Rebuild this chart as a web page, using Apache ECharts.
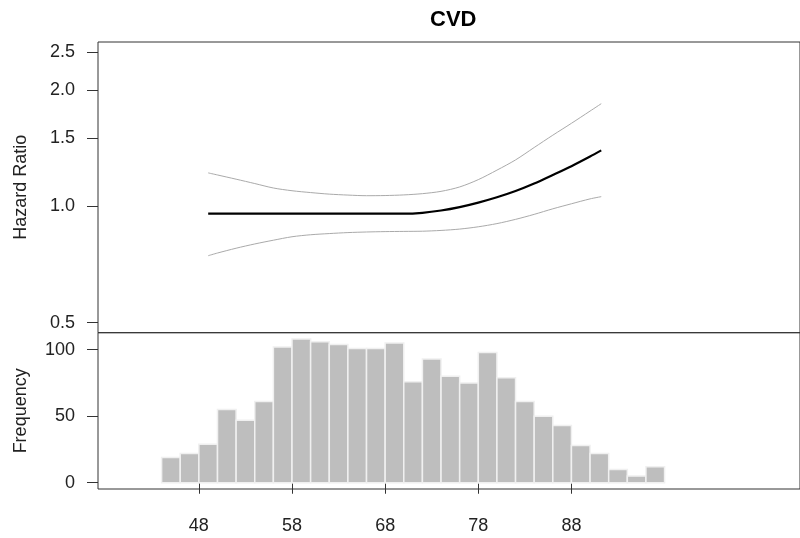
<!DOCTYPE html>
<html>
<head>
<meta charset="utf-8">
<script src="https://cdn.jsdelivr.net/npm/echarts@6/dist/echarts.min.js"></script>
<style>
html, body { margin: 0; padding: 0; background: #fff; }
#main { width: 800px; height: 538px; }
</style>
</head>
<body>
<div id="main"></div>
<script>
// age grid for the spline curve
var ages = [49, 50, 52, 54, 56, 58, 60, 62, 64, 66, 68, 70, 72, 74, 76, 78, 80, 82, 84, 86, 88, 90, 91.2];
var hrFit = [0.957, 0.957, 0.957, 0.957, 0.957, 0.957, 0.957, 0.957, 0.958, 0.957, 0.957, 0.957, 0.962, 0.975, 0.995, 1.022, 1.055, 1.095, 1.145, 1.205, 1.27, 1.345, 1.395];
var hrUpper = [1.22, 1.205, 1.175, 1.145, 1.115, 1.097, 1.085, 1.075, 1.069, 1.065, 1.066, 1.07, 1.078, 1.093, 1.122, 1.172, 1.24, 1.318, 1.419, 1.527, 1.639, 1.763, 1.842];
var hrLower = [0.745, 0.757, 0.779, 0.799, 0.817, 0.834, 0.844, 0.85, 0.855, 0.858, 0.86, 0.861, 0.862, 0.866, 0.873, 0.885, 0.902, 0.925, 0.953, 0.985, 1.015, 1.045, 1.059];

// histogram of age
var binStarts = [44, 46, 48, 50, 52, 54, 56, 58, 60, 62, 64, 66, 68, 70, 72, 74, 76, 78, 80, 82, 84, 86, 88, 90, 92, 94, 96];
var binWidth = 2;
var freq = [19, 22, 29, 55, 47, 61, 102, 108, 106, 104, 101, 101, 105, 76, 93, 80, 75, 98, 79, 61, 50, 43, 28, 22, 10, 5, 12];

var xTicks = [48, 58, 68, 78, 88];
var hrTicks = [0.5, 1.0, 1.5, 2.0, 2.5];
var freqTicks = [0, 50, 100];

var font = 'Liberation Sans, Arial, sans-serif';
var axisColor = '#333';

function pairs(xs, ys) {
    var out = [];
    for (var i = 0; i < xs.length; i++) {
        out.push([xs[i], Math.log(ys[i])]);
    }
    return out;
}

var histData = [];
for (var i = 0; i < binStarts.length; i++) {
    histData.push([binStarts[i], binStarts[i] + binWidth, freq[i]]);
}

var chart = echarts.init(document.getElementById('main'));

var xCommon = {
    type: 'value',
    min: 37.17,
    max: 112.54,
    splitLine: { show: false },
    axisLine: { show: false }
};

var option = {
    animation: false,
    backgroundColor: '#fff',
    title: {
        text: 'CVD',
        left: 430,
        top: 9,
        padding: 0,
        textStyle: { fontFamily: font, fontSize: 22, fontWeight: 'bold', color: '#000' }
    },
    grid: [
        { left: 98, top: 42, width: 710, height: 290.7, show: true, borderColor: axisColor, borderWidth: 1, backgroundColor: 'transparent' },
        { left: 98, top: 332.7, width: 710, height: 156.3, show: true, borderColor: axisColor, borderWidth: 1, backgroundColor: 'transparent' }
    ],
    xAxis: [
        Object.assign({}, xCommon, {
            gridIndex: 0,
            axisTick: { show: false },
            axisLabel: { show: false }
        }),
        Object.assign({}, xCommon, {
            gridIndex: 1,
            axisTick: { show: true, length: 11, lineStyle: { color: axisColor }, customValues: xTicks },
            axisLabel: { margin: 28, fontFamily: font, fontSize: 18, color: '#222', customValues: xTicks }
        })
    ],
    yAxis: [
        {
            type: 'value',
            gridIndex: 0,
            min: Math.log(0.471),
            max: Math.log(2.66),
            splitLine: { show: false },
            axisLine: { show: false },
            axisTick: { show: true, length: 11, lineStyle: { color: axisColor }, customValues: hrTicks.map(Math.log) },
            axisLabel: {
                margin: 23, fontFamily: font, fontSize: 18, color: '#222',
                customValues: hrTicks.map(Math.log),
                formatter: function (v) { return Math.exp(v).toFixed(1); }
            },
            name: 'Hazard Ratio',
            nameLocation: 'middle',
            nameGap: 68,
            nameTextStyle: { fontFamily: font, fontSize: 18, color: '#222' }
        },
        {
            type: 'value',
            gridIndex: 1,
            min: -4.7,
            max: 112.8,
            splitLine: { show: false },
            axisLine: { show: false },
            axisTick: { show: true, length: 11, lineStyle: { color: axisColor }, customValues: freqTicks },
            axisLabel: { margin: 23, fontFamily: font, fontSize: 18, color: '#222', customValues: freqTicks },
            name: 'Frequency',
            nameLocation: 'middle',
            nameGap: 68,
            nameTextStyle: { fontFamily: font, fontSize: 18, color: '#222' }
        }
    ],
    series: [
        {
            type: 'custom',
            xAxisIndex: 1,
            yAxisIndex: 1,
            data: histData,
            renderItem: function (params, api) {
                var p0 = api.coord([api.value(0), 0]);
                var p1 = api.coord([api.value(1), api.value(2)]);
                return {
                    type: 'rect',
                    shape: { x: p0[0], y: p1[1], width: p1[0] - p0[0], height: p0[1] - p1[1] },
                    style: { fill: '#bebebe', stroke: '#f0f0f0', lineWidth: 1.5 }
                };
            }
        },
        {
            type: 'line', xAxisIndex: 0, yAxisIndex: 0, showSymbol: false, smooth: 0.3,
            data: pairs(ages, hrUpper),
            lineStyle: { color: '#aaaaaa', width: 1 }
        },
        {
            type: 'line', xAxisIndex: 0, yAxisIndex: 0, showSymbol: false, smooth: 0.3,
            data: pairs(ages, hrLower),
            lineStyle: { color: '#aaaaaa', width: 1 }
        },
        {
            type: 'line', xAxisIndex: 0, yAxisIndex: 0, showSymbol: false, smooth: 0.3,
            data: pairs(ages, hrFit),
            lineStyle: { color: '#000', width: 2.2 }
        }
    ]
};

chart.setOption(option);
</script>
</body>
</html>
